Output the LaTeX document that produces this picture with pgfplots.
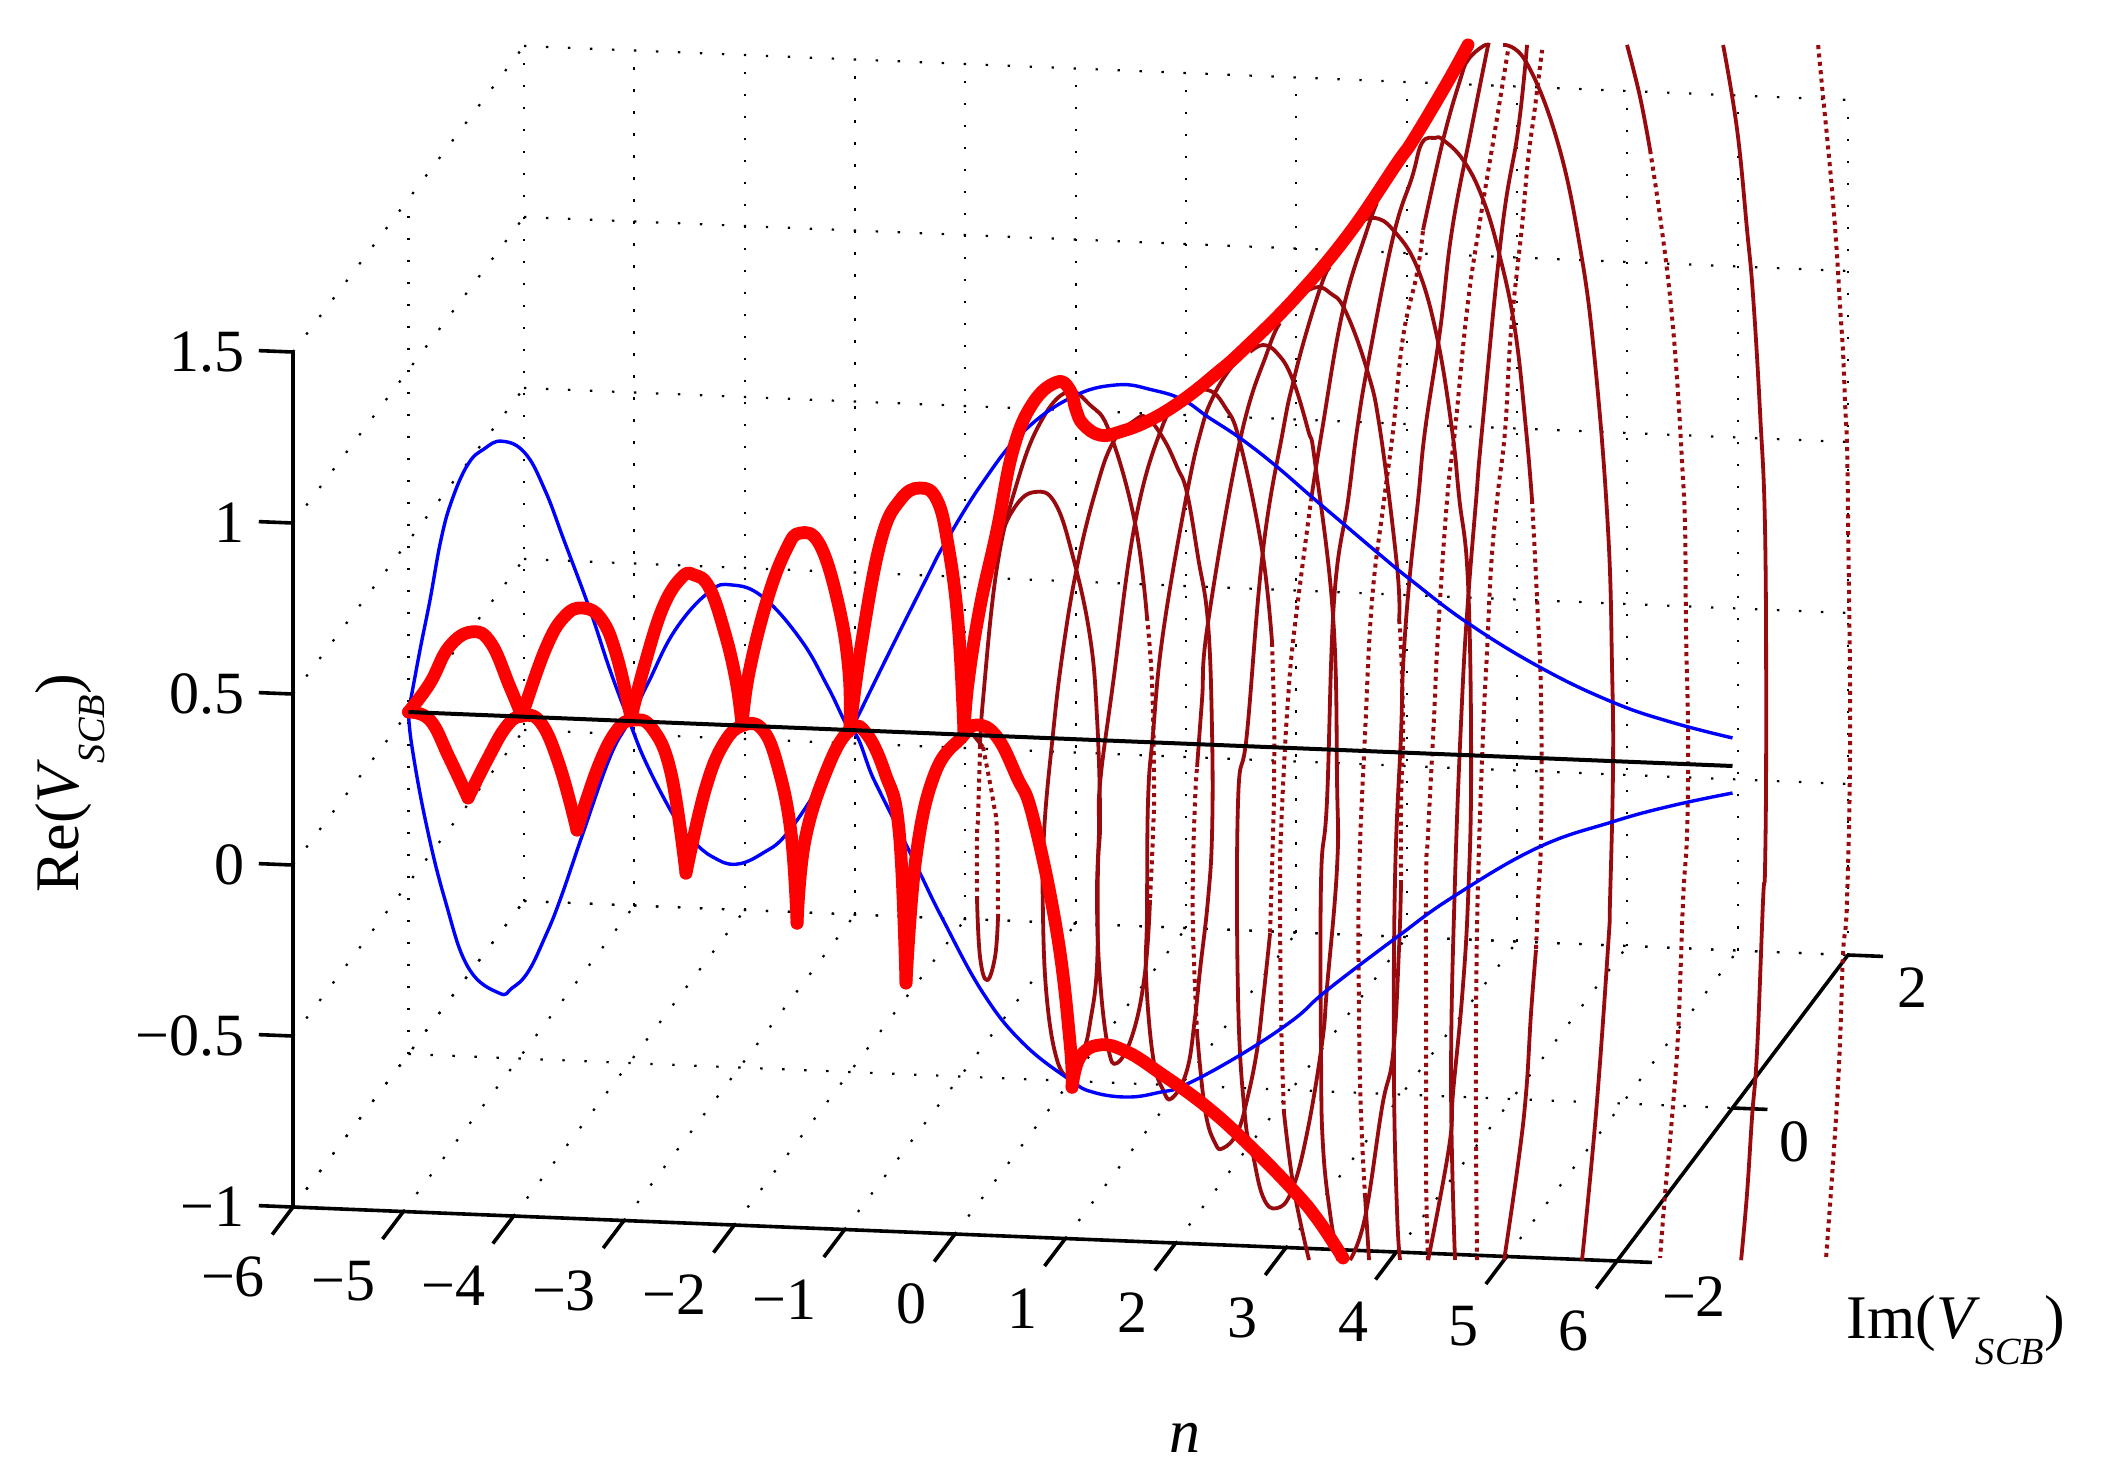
\documentclass[border=0pt]{standalone}
\usepackage{fontspec}
\setmainfont{Liberation Serif}
\usepackage{pgfplots}
\pgfplotsset{compat=1.18}
\definecolor{dkred}{RGB}{153,10,15}
\newcommand{\lf}{\fontsize{15.5}{18}\selectfont}
\newcommand{\tf}{\fontsize{15}{18}\selectfont}
\newcommand{\lsub}{\textit{V}\kern-1pt\raisebox{-6.5pt}{\fontsize{9.6}{10}\selectfont\textit{SCB}}}
\pgfplotsset{
 dk/.style={color=dkred,line width=0.95pt,smooth,tension=0.7,mark=none,line join=round},
 dd/.style={color=dkred,line width=1pt,smooth,tension=0.7,mark=none,dash pattern=on 1pt off 1.1pt},
 th/.style={color=red,line width=3.2pt,smooth,tension=0.7,mark=none,line cap=round,line join=round},
 bl/.style={color=blue,line width=0.85pt,smooth,tension=0.7,mark=none},
 ax/.style={black,line width=0.9pt,mark=none},
}
\begin{document}
\begin{tikzpicture}
\useasboundingbox (-267.625pt,-182.25pt) rectangle (261.375pt,184.75pt);
\begin{axis}[
 at={(0pt,0pt)},anchor=origin,
 x={(27.583pt,-1.125pt)},y={(14.4375pt,19.125pt)},z={(0pt,85.5pt)},
 xmin=-6,xmax=6,ymin=-2,ymax=2,zmin=-1,zmax=1.5,
 clip=false,
 axis lines*=left,
 axis line style={draw=none},
 major tick length=0pt,
 grid=major,
 major grid style={black,line width=0.55pt,dash pattern=on 0.6pt off 4.9pt},
 xtick={-6,-5,-4,-3,-2,-1,0,1,2,3,4,5,6},
 xticklabels={},
 ytick={-2,0,2},
 yticklabels={},
 ztick={-1,-0.5,0,0.5,1,1.5},
 zticklabels={},
]
% axis lines and ticks
\addplot3[ax] coordinates {(-6,-2,-1)(6,-2,-1)};
\addplot3[ax] coordinates {(-6,-2,-1)(-6,-2,1.5)};
\addplot3[ax] coordinates {(6,-2,-1)(6,2,-1)};
\pgfplotsinvokeforeach{-6,-5,-4,-3,-2,-1,0,1,2,3,4,5,6}{\addplot3[ax] coordinates {(#1,-2,-1)(#1,-2.36,-1)};}
\pgfplotsinvokeforeach{-2,0,2}{\addplot3[ax] coordinates {(6,#1,-1)(6.317,#1,-1)};}
\pgfplotsinvokeforeach{-1,-0.5,0,0.5,1,1.5}{\addplot3[ax] coordinates {(-6,-2,#1)(-6.31,-2,#1)};}
% dark red strands
\addplot3[dk] coordinates {(-.938,0,.023)(-.793,0,-.034)};
\addplot3[dd] coordinates {(-.793,0,-.034)(-.702,0,-.188)(-.666,0,-.284)(-.657,0,-.529)};
\addplot3[dk] coordinates {(-.657,0,-.529)(-.684,0,-.646)(-.757,0,-.715)(-.820,0,-.648)(-.847,0,-.482)};
\addplot3[dd] coordinates {(-.847,0,-.482)(-.847,0,-.286)(-.838,0,-.239)(-.820,0,-.034)};
\addplot3[dk] coordinates {(-.820,0,-.034)(-.793,0,.104)(-.666,0,.494)(-.485,0,.742)(-.276,0,.920)(-.032,0,1.014)(.177,0,.979)(.358,0,.899)(.585,0,.639)(.693,0,.366)};
\addplot3[dd] coordinates {(.693,0,.366)(.739,0,.173)(.757,0,-.119)(.748,0,-.265)(.721,0,-.461)};
\addplot3[dk] coordinates {(.721,0,-.461)(.675,0,-.675)(.567,0,-.852)(.422,0,-.942)(.340,0,-.896)(.268,0,-.701)(.240,0,-.468)(.258,0,-.272)(.268,0,-.125)(.386,0,.169)(.585,0,.639)(.830,0,.923)(1.020,0,1.011)(1.238,0,1.037)(1.401,0,.989)(1.537,0,.886)(1.736,0,.576)(1.827,0,.305)};
\addplot3[dd] coordinates {(1.827,0,.305)(1.845,0,.089)(1.845,0,-.104)(1.836,0,-.251)(1.809,0,-.544)};
\addplot3[dk] coordinates {(1.809,0,-.544)(1.745,0,-.740)(1.691,0,-.887)(1.600,0,-1.034)(1.510,0,-1.132)(1.383,0,-1.178)(1.310,0,-1.164)(1.220,0,-1.069)(1.147,0,-.845)};
\addplot3[dd] coordinates {(1.147,0,-.845)(1.111,0,-.553)(1.111,0,-.360)(1.129,0,-.163)(1.147,0,-.067)};
\addplot3[dk] coordinates {(1.147,0,-.067)(1.192,0,.130)(1.246,0,.356)(1.537,0,.894)(1.790,0,1.161)(1.899,0,1.241)};
\addplot3[dk] coordinates {(-.947,0,.020)(-.929,0,.151)(-.820,0,.375)(-.666,0,.553)(-.503,0,.672)(-.321,0,.718)(-.140,0,.688)(.023,0,.532)(.177,0,.301)(.240,0,.068)(.268,0,-.225)(.249,0,-.371)(.240,0,-.663)(.177,0,-.828)(.123,0,-.908)(.041,0,-.988)(-.004,0,-.997)(-.122,0,-.940)(-.213,0,-.766)(-.249,0,-.524)(-.240,0,-.278)(-.158,0,.015)(-.068,0,.259)(.059,0,.504)(.222,0,.722)(.386,0,.873)(.585,0,.940)(.693,0,.948)(.839,0,.891)(.966,0,.808)(1.056,0,.733)(1.156,0,.547)(1.246,0,.356)(1.283,0,.035)(1.283,0,-.258)(1.246,0,-.454)(1.174,0,-.660)(1.129,0,-.798)(1.056,0,-.954)(.920,0,-1.038)(.839,0,-1.015)(.748,0,-.920)(.685,0,-.687)(.693,0,-.511)(.703,0,-.169)(.748,0,.027)(.839,0,.321)(1.056,0,.733)(1.192,0,.928)(1.292,0,1.017)(1.419,0,1.089)(1.537,0,1.134)};
\addplot3[dk] coordinates {(1.628,0,1.153)(1.745,0,1.175)(1.872,0,1.153)(2.008,0,1.082)(2.153,0,.932)(2.217,0,.836)(2.380,0,.388)(2.416,0,-.097)(2.416,0,-.342)(2.325,0,-.695)(2.280,0,-.859)(2.144,0,-1.124)(2.008,0,-1.292)(1.872,0,-1.347)(1.745,0,-1.316)(1.645,0,-1.180)(1.582,0,-1.084)(1.519,0,-.743)(1.519,0,-.158)(1.600,0,.039)(1.745,0,.575)(1.927,0,.929)(2.017,0,1.068)(2.144,0,1.224)(2.289,0,1.372)(2.352,0,1.411)};
\addplot3[dk] coordinates {(2.126,0,1.335)(2.244,0,1.351)(2.352,0,1.335)(2.488,0,1.287)(2.688,0,1.114)(2.806,0,.940)(2.960,0,.542)(2.978,0,.387)};
\addplot3[dd] coordinates {(2.978,0,.387)(2.996,0,.300)(3.014,0,.057)(2.996,0,-.139)(2.996,0,-.373)};
\addplot3[dk] coordinates {(2.996,0,-.373)(2.978,0,-.569)(2.924,0,-.880)(2.824,0,-1.039)(2.670,0,-1.363)(2.534,0,-1.490)};
\addplot3[dk] coordinates {(2.425,0,-1.492)(2.352,0,-1.355)(2.289,0,-1.163)(2.271,0,-.909)(2.271,0,-.382)(2.325,0,-.148)(2.389,0,.438)(2.516,0,.732)(2.597,0,.938)(2.697,0,1.135)(2.924,0,1.506)(3.096,0,1.684)(3.186,0,1.785)(3.304,0,1.801)(3.377,0,1.796)(3.558,0,1.740)(3.730,0,1.634)(3.884,0,1.472)(4.029,0,1.249)(4.129,0,.958)(4.183,0,.754)};
\addplot3[dd] coordinates {(4.183,0,.754)(4.229,0,.462)(4.265,0,.170)(4.265,0,-.219)(4.238,0,-.415)(4.219,0,-.561)};
\addplot3[dk] coordinates {(4.219,0,-.561)(4.174,0,-.746)(4.129,0,-.981)(4.057,0,-1.187)(3.930,0,-1.472)};
\addplot3[dk] coordinates {(2.624,0,1.546)(2.760,0,1.560)(2.924,0,1.527)(3.141,0,1.421)(3.322,0,1.219)(3.458,0,.949)(3.522,0,.754)(3.603,0,.503)(3.631,0,-.034)(3.603,0,-.423)(3.549,0,-.708)(3.467,0,-.989)(3.431,0,-1.148)(3.241,0,-1.481)};
\addplot3[dk] coordinates {(2.162,0,-1.495)(2.026,0,-1.292)(1.935,0,-1.068)};
\addplot3[dd] coordinates {(1.935,0,-1.068)(1.908,0,-.776)(1.899,0,-.387)(1.908,0,-.250)(1.935,0,-.056)(1.971,0,.140)(2.026,0,.337)(2.180,0,.727)};
\addplot3[dk] coordinates {(2.180,0,.727)(2.280,0,.933)(2.470,0,1.287)(2.688,0,1.524)(2.778,0,1.604)};
\addplot3[dk] coordinates {(2.706,0,-1.488)(2.670,0,-1.304)};
\addplot3[dd] coordinates {(2.670,0,-1.304)(2.633,0,-1.059)(2.615,0,-.767)(2.615,0,-.378)(2.670,0,.053)(2.733,0,.442)(2.842,0,.736)(2.924,0,.942)(3.014,0,1.215)(3.141,0,1.404)(3.195,0,1.530)};
\addplot3[dk] coordinates {(3.195,0,1.530)(3.377,0,1.796)(3.531,0,1.973)(3.603,0,2.033)(3.739,0,2.075)(3.803,0,2.079)};
\addplot3[dk] coordinates {(3.921,0,2.081)(4.129,0,2.034)(4.410,0,1.809)(4.618,0,1.499)(4.754,0,1.162)(4.872,0,.675)(4.908,0,.275)(4.917,0,-.017)(4.890,0,-.406)(4.872,0,-.544)(4.763,0,-1.031)(4.636,0,-1.463)};
\addplot3[dk] coordinates {(2.987,0,-1.484)(2.960,0,-1.347)(2.932,0,-.958)(2.941,0,-.374)(2.996,0,.057)(3.014,0,.250)(3.069,0,.496)(3.150,0,.740)(3.214,0,.946)(3.350,0,1.240)(3.458,0,1.534)(3.631,0,1.828)(3.785,0,2.079)};
\addplot3[dd] coordinates {(3.241,0,-1.481)(3.223,0,-1.247)(3.223,0,-.858)(3.223,0,-.370)(3.241,0,-.232)(3.295,0,.108)(3.331,0,.354)(3.413,0,.744)(3.485,0,.949)(3.594,0,1.302)(3.703,0,1.546)(3.848,0,1.831)(3.966,0,2.067)};
\addplot3[dk] coordinates {(3.485,0,-1.477)(3.449,0,-.952)(3.485,0,-.366)(3.549,0,.161)(3.603,0,.454)(3.676,0,.747)(3.730,0,.953)(3.911,0,1.540)(4.057,0,1.834)(4.138,0,2.084)};
\addplot3[dd] coordinates {(3.685,0,-1.475)(3.676,0,-1.145)(3.676,0,-.753)(3.694,0,-.364)(3.739,0,.067)(3.776,0,.310)(3.812,0,.553)(3.866,0,.750)(3.939,0,.955)(3.993,0,1.248)(4.093,0,1.557)(4.147,0,1.748)(4.210,0,1.903)(4.274,0,2.071)};
\addplot3[dk] coordinates {(5.044,0,2.096)(5.162,0,1.945)(5.253,0,1.791)};
\addplot3[dd] coordinates {(5.253,0,1.791)(5.344,0,1.596)(5.434,0,1.364)(5.498,0,1.122)(5.543,0,.880)(5.570,0,.693)(5.579,0,.383)(5.597,0,.091)(5.588,0,-.201)(5.552,0,-.398)(5.507,0,-.787)(5.452,0,-1.034)(5.389,0,-1.257)(5.344,0,-1.447)};
\addplot3[dk] coordinates {(5.915,0,2.107)(6.042,0,1.860)(6.132,0,1.569)(6.187,0,1.374)(6.250,0,1.035)(6.295,0,.694)(6.305,0,.101)(6.295,0,-.292)(6.277,0,-.388)(6.223,0,-.827)(6.177,0,-1.024)(6.132,0,-1.247)(6.078,0,-1.444)};
\addplot3[dd] coordinates {(6.776,0,2.118)(6.821,0,1.967)(6.866,0,1.821)(6.912,0,1.658)(6.948,0,1.501)(6.975,0,1.355)(7.002,0,1.221)(7.020,0,1.075)(7.038,0,.946)(7.048,0,.713)(7.066,0,.111)(7.038,0,-.378)(7.002,0,-.534)(6.975,0,-.788)(6.948,0,-.964)(6.902,0,-1.190)(6.848,0,-1.427)};
% blue
\addplot3[bl] coordinates {(-6,0,0)(-5.896,0,.182)(-5.805,0,.330)(-5.706,0,.507)(-5.606,0,.625)(-5.460,0,.732)(-5.316,0,.778)(-5.153,0,.803)(-4.944,0,.771)(-4.763,0,.665)(-4.591,0,.521)(-4.355,0,.320)(-4.174,0,.147)(-4,0,0)(-3.829,0,-.132)(-3.558,0,-.292)(-3.412,0,-.346)(-3.240,0,-.388)(-3.032,0,-.406)(-2.787,0,-.370)(-2.560,0,-.306)(-2.234,0,-.144)(-2,0,0)(-1.781,0,-.143)(-1.554,0,-.287)(-1.364,0,-.410)(-1.155,0,-.544)(-.793,0,-.753)(-.430,0,-.895)(-.004,0,-.997)(.204,0,-1.030)(.521,0,-1.040)(.812,0,-1.022)(1.038,0,-.998)(1.537,0,-.904)(2.017,0,-.795)(2.325,0,-.704)(2.960,0,-.540)(3.467,0,-.416)(4.229,0,-.263)(4.908,0,-.178)(5.443,0,-.124)(6,0,-.079)};
\addplot3[bl] coordinates {(-6,0,0)(-5.968,0,-.102)(-5.841,0,-.323)(-5.669,0,-.545)(-5.460,0,-.739)(-5.179,0,-.811)(-5.062,0,-.795)(-4.917,0,-.746)(-4.763,0,-.642)(-4.627,0,-.532)(-4.418,0,-.333)(-4.174,0,-.108)(-4,0,0)(-3.829,0,.113)(-3.584,0,.271)(-3.276,0,.387)(-3.068,0,.410)(-2.787,0,.378)(-2.442,0,.257)(-2.198,0,.123)(-2,0,0)(-1.944,0,.030)(-1.645,0,.230)(-1.300,0,.456)(-1.137,0,.558)(-.793,0,.741)(-.430,0,.892)(.014,0,1.0)(.422,0,1.041)(.748,0,1.030)(1.020,0,1.005)(1.246,0,.958)(1.537,0,.900)(1.854,0,.825)(2.189,0,.736)(2.488,0,.658)(2.788,0,.580)(3.087,0,.505)(3.603,0,.386)(4.265,0,.264)(4.908,0,.173)(5.443,0,.121)(6,0,.082)};
% thick red, upper
\addplot3[th] coordinates {(-6,0,0)(-5.805,0,.087)(-5.633,0,.195)(-5.424,0,.242)(-5.252,0,.211)(-5.080,0,.085)(-4.971,0,.002)};
\addplot3[th] coordinates {(-4.971,0,.002)(-4.763,0,.197)(-4.591,0,.296)(-4.418,0,.325)(-4.246,0,.292)(-4.110,0,.186)(-3.983,0,.009)};
\addplot3[th] coordinates {(-3.983,0,.009)(-3.865,0,.160)(-3.693,0,.337)(-3.521,0,.427)(-3.412,0,.435)(-3.276,0,.401)(-3.140,0,.277)(-3.032,0,.132)(-2.977,0,.002)};
\addplot3[th] coordinates {(-2.977,0,.002)(-2.914,0,.155)(-2.750,0,.370)(-2.578,0,.519)(-2.451,0,.570)(-2.270,0,.537)(-2.098,0,.358)(-2.007,0,.166)(-2,0,0)};
\addplot3[th] coordinates {(-2,0,0)(-1.889,0,.265)(-1.717,0,.559)(-1.545,0,.678)(-1.364,0,.716)(-1.210,0,.683)(-1.110,0,.553)(-1.019,0,.326)(-.965,0,.005)};
\addplot3[th] coordinates {(-.965,0,.005)(-.929,0,.151)(-.820,0,.375)(-.666,0,.602)(-.521,0,.838)(-.340,0,.978)(-.122,0,1.042)(-.004,0,1.020)(.050,0,.963)(.114,0,.922)(.268,0,.892)(.449,0,.904)(.721,0,.942)(1.020,0,1.005)(1.328,0,1.088)(1.564,0,1.158)(2.035,0,1.316)(2.516,0,1.507)(2.960,0,1.723)(3.105,0,1.792)(3.413,0,1.963)(3.603,0,2.077)};
% thick red, lower
\addplot3[th] coordinates {(-6,0,0)(-5.805,0,-.021)(-5.633,0,-.127)(-5.460,0,-.244)};
\addplot3[th] coordinates {(-5.460,0,-.244)(-5.288,0,-.131)(-5.116,0,-.032)(-4.971,0,.002)(-4.799,0,-.016)(-4.627,0,-.143)(-4.473,0,-.325)};
\addplot3[th] coordinates {(-4.473,0,-.325)(-4.282,0,-.138)(-4.110,0,-.028)(-3.965,0,.003)(-3.793,0,-.018)(-3.621,0,-.147)(-3.485,0,-.438)};
\addplot3[th] coordinates {(-3.485,0,-.438)(-3.312,0,-.193)(-3.140,0,-.053)(-2.959,0,.002)(-2.787,0,-.011)(-2.651,0,-.117)(-2.533,0,-.308)(-2.478,0,-.571)};
\addplot3[th] coordinates {(-2.478,0,-.571)(-2.406,0,-.327)(-2.198,0,-.111)(-2,0,0)(-1.853,0,-.007)(-1.681,0,-.122)(-1.554,0,-.287)(-1.491,0,-.733)};
\addplot3[th] coordinates {(-1.491,0,-.733)(-1.400,0,-.363)(-1.228,0,-.116)(-.983,0,-.007)(-.847,0,.030)(-.666,0,-.003)(-.485,0,-.118)(-.340,0,-.233)(-.122,0,-.569)(-.004,0,-.889)(.014,0,-1.018)};
\addplot3[th] coordinates {(.014,0,-1.018)(.086,0,-.929)(.268,0,-.891)(.513,0,-.908)(.812,0,-.966)(1.238,0,-1.060)(1.628,0,-1.169)(2.017,0,-1.292)(2.244,0,-1.377)(2.470,0,-1.485)};
% black
\addplot3[black,line width=1pt,mark=none] coordinates {(-6,0,0)(6,0,0)};
% tick labels
\node[font=\tf] at (axis cs:-6.544,-2,-1.212) {−6};
\node[font=\tf] at (axis cs:-5.544,-2,-1.212) {−5};
\node[font=\tf] at (axis cs:-4.544,-2,-1.212) {−4};
\node[font=\tf] at (axis cs:-3.544,-2,-1.212) {−3};
\node[font=\tf] at (axis cs:-2.544,-2,-1.212) {−2};
\node[font=\tf] at (axis cs:-1.544,-2,-1.212) {−1};
\node[font=\tf] at (axis cs:-0.39,-2,-1.21) {0};
\node[font=\tf] at (axis cs:0.61,-2,-1.21) {1};
\node[font=\tf] at (axis cs:1.61,-2,-1.21) {2};
\node[font=\tf] at (axis cs:2.61,-2,-1.21) {3};
\node[font=\tf] at (axis cs:3.61,-2,-1.21) {4};
\node[font=\tf] at (axis cs:4.61,-2,-1.21) {5};
\node[font=\tf] at (axis cs:5.61,-2,-1.21) {6};
\node[font=\tf] at (axis cs:6.698,-2,-1.096) {−2};
\node[font=\tf] at (axis cs:6.562,0,-1.092) {0};
\node[font=\tf] at (axis cs:6.58,2,-1.089) {2};
\node[font=\tf,anchor=east,inner sep=0pt] at (axis cs:-6.435,-2,-1.006) {−1};
\node[font=\tf,anchor=east,inner sep=0pt] at (axis cs:-6.435,-2,-0.506) {−0.5};
\node[font=\tf,anchor=east,inner sep=0pt] at (axis cs:-6.435,-2,-0.006) {0};
\node[font=\tf,anchor=east,inner sep=0pt] at (axis cs:-6.435,-2,0.494) {0.5};
\node[font=\tf,anchor=east,inner sep=0pt] at (axis cs:-6.435,-2,0.994) {1};
\node[font=\tf,anchor=east,inner sep=0pt] at (axis cs:-6.435,-2,1.494) {1.5};
% axis labels
\node[font=\lf] at (axis cs:1.04,0,-2.03) {\textit{n}};
\node[font=\lf,rotate=90] at (axis cs:-9.064,0,-.249) {Re(\lsub)};
\node[font=\lf] at (axis cs:8.023,0,-1.622) {Im(\lsub)};
\end{axis}
\end{tikzpicture}
\end{document}
